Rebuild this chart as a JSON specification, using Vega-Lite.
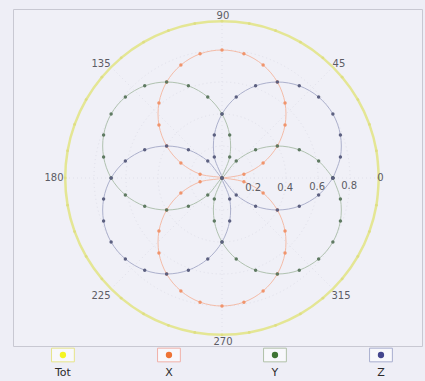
{
  "$schema": "https://vega.github.io/schema/vega-lite/v6.json",
  "background": "#eeeef6",
  "padding": {"left": 12, "top": 8, "right": 4, "bottom": 0},
  "spacing": 0,
  "bounds": "flush",
  "config": {"view": {"stroke": null}, "font": "DejaVu Sans"},
  "resolve": {"scale": {"x": "independent", "y": "independent", "fill": "independent", "stroke": "independent"}},
  "datasets": {
    "tot": [
      {"s":"Tot","t":0,"x":0.98,"y":0},{"s":"Tot","t":10,"x":0.965,"y":0.17},{"s":"Tot","t":20,"x":0.921,"y":0.335},{"s":"Tot","t":30,"x":0.849,"y":0.49},{"s":"Tot","t":40,"x":0.751,"y":0.63},{"s":"Tot","t":50,"x":0.63,"y":0.751},{"s":"Tot","t":60,"x":0.49,"y":0.849},{"s":"Tot","t":70,"x":0.335,"y":0.921},{"s":"Tot","t":80,"x":0.17,"y":0.965},{"s":"Tot","t":90,"x":0,"y":0.98},{"s":"Tot","t":100,"x":-0.17,"y":0.965},{"s":"Tot","t":110,"x":-0.335,"y":0.921},{"s":"Tot","t":120,"x":-0.49,"y":0.849},{"s":"Tot","t":130,"x":-0.63,"y":0.751},{"s":"Tot","t":140,"x":-0.751,"y":0.63},{"s":"Tot","t":150,"x":-0.849,"y":0.49},{"s":"Tot","t":160,"x":-0.921,"y":0.335},{"s":"Tot","t":170,"x":-0.965,"y":0.17},{"s":"Tot","t":180,"x":-0.98,"y":0},{"s":"Tot","t":190,"x":-0.965,"y":-0.17},{"s":"Tot","t":200,"x":-0.921,"y":-0.335},{"s":"Tot","t":210,"x":-0.849,"y":-0.49},{"s":"Tot","t":220,"x":-0.751,"y":-0.63},{"s":"Tot","t":230,"x":-0.63,"y":-0.751},{"s":"Tot","t":240,"x":-0.49,"y":-0.849},{"s":"Tot","t":250,"x":-0.335,"y":-0.921},{"s":"Tot","t":260,"x":-0.17,"y":-0.965},{"s":"Tot","t":270,"x":0,"y":-0.98},{"s":"Tot","t":280,"x":0.17,"y":-0.965},{"s":"Tot","t":290,"x":0.335,"y":-0.921},{"s":"Tot","t":300,"x":0.49,"y":-0.849},{"s":"Tot","t":310,"x":0.63,"y":-0.751},{"s":"Tot","t":320,"x":0.751,"y":-0.63},{"s":"Tot","t":330,"x":0.849,"y":-0.49},{"s":"Tot","t":340,"x":0.921,"y":-0.335},{"s":"Tot","t":350,"x":0.965,"y":-0.17},{"s":"Tot","t":360,"x":0.98,"y":0}
    ],
    "xyz": [
      {"s":"X","t":0,"x":0,"y":0},{"s":"X","t":10,"x":0.137,"y":0.024},{"s":"X","t":20,"x":0.257,"y":0.094},{"s":"X","t":30,"x":0.346,"y":0.2},{"s":"X","t":40,"x":0.394,"y":0.331},{"s":"X","t":50,"x":0.394,"y":0.469},{"s":"X","t":60,"x":0.346,"y":0.6},{"s":"X","t":70,"x":0.257,"y":0.706},{"s":"X","t":80,"x":0.137,"y":0.776},{"s":"X","t":90,"x":0,"y":0.8},{"s":"X","t":100,"x":-0.137,"y":0.776},{"s":"X","t":110,"x":-0.257,"y":0.706},{"s":"X","t":120,"x":-0.346,"y":0.6},{"s":"X","t":130,"x":-0.394,"y":0.469},{"s":"X","t":140,"x":-0.394,"y":0.331},{"s":"X","t":150,"x":-0.346,"y":0.2},{"s":"X","t":160,"x":-0.257,"y":0.094},{"s":"X","t":170,"x":-0.137,"y":0.024},{"s":"X","t":180,"x":0,"y":0},{"s":"X","t":190,"x":-0.137,"y":-0.024},{"s":"X","t":200,"x":-0.257,"y":-0.094},{"s":"X","t":210,"x":-0.346,"y":-0.2},{"s":"X","t":220,"x":-0.394,"y":-0.331},{"s":"X","t":230,"x":-0.394,"y":-0.469},{"s":"X","t":240,"x":-0.346,"y":-0.6},{"s":"X","t":250,"x":-0.257,"y":-0.706},{"s":"X","t":260,"x":-0.137,"y":-0.776},{"s":"X","t":270,"x":0,"y":-0.8},{"s":"X","t":280,"x":0.137,"y":-0.776},{"s":"X","t":290,"x":0.257,"y":-0.706},{"s":"X","t":300,"x":0.346,"y":-0.6},{"s":"X","t":310,"x":0.394,"y":-0.469},{"s":"X","t":320,"x":0.394,"y":-0.331},{"s":"X","t":330,"x":0.346,"y":-0.2},{"s":"X","t":340,"x":0.257,"y":-0.094},{"s":"X","t":350,"x":0.137,"y":-0.024},{"s":"X","t":360,"x":0,"y":0},
      {"s":"Y","t":0,"x":0.693,"y":0},{"s":"Y","t":10,"x":0.604,"y":0.106},{"s":"Y","t":20,"x":0.483,"y":0.176},{"s":"Y","t":30,"x":0.346,"y":0.2},{"s":"Y","t":40,"x":0.21,"y":0.176},{"s":"Y","t":50,"x":0.089,"y":0.106},{"s":"Y","t":60,"x":0,"y":0},{"s":"Y","t":70,"x":0.048,"y":0.131},{"s":"Y","t":80,"x":0.048,"y":0.269},{"s":"Y","t":90,"x":0,"y":0.4},{"s":"Y","t":100,"x":-0.089,"y":0.506},{"s":"Y","t":110,"x":-0.21,"y":0.576},{"s":"Y","t":120,"x":-0.346,"y":0.6},{"s":"Y","t":130,"x":-0.483,"y":0.576},{"s":"Y","t":140,"x":-0.604,"y":0.506},{"s":"Y","t":150,"x":-0.693,"y":0.4},{"s":"Y","t":160,"x":-0.74,"y":0.269},{"s":"Y","t":170,"x":-0.74,"y":0.131},{"s":"Y","t":180,"x":-0.693,"y":0},{"s":"Y","t":190,"x":-0.604,"y":-0.106},{"s":"Y","t":200,"x":-0.483,"y":-0.176},{"s":"Y","t":210,"x":-0.346,"y":-0.2},{"s":"Y","t":220,"x":-0.21,"y":-0.176},{"s":"Y","t":230,"x":-0.089,"y":-0.106},{"s":"Y","t":240,"x":0,"y":0},{"s":"Y","t":250,"x":-0.048,"y":-0.131},{"s":"Y","t":260,"x":-0.048,"y":-0.269},{"s":"Y","t":270,"x":0,"y":-0.4},{"s":"Y","t":280,"x":0.089,"y":-0.506},{"s":"Y","t":290,"x":0.21,"y":-0.576},{"s":"Y","t":300,"x":0.346,"y":-0.6},{"s":"Y","t":310,"x":0.483,"y":-0.576},{"s":"Y","t":320,"x":0.604,"y":-0.506},{"s":"Y","t":330,"x":0.693,"y":-0.4},{"s":"Y","t":340,"x":0.74,"y":-0.269},{"s":"Y","t":350,"x":0.74,"y":-0.131},{"s":"Y","t":360,"x":0.693,"y":0},
      {"s":"Z","t":0,"x":0.693,"y":0},{"s":"Z","t":10,"x":0.74,"y":0.131},{"s":"Z","t":20,"x":0.74,"y":0.269},{"s":"Z","t":30,"x":0.693,"y":0.4},{"s":"Z","t":40,"x":0.604,"y":0.506},{"s":"Z","t":50,"x":0.483,"y":0.576},{"s":"Z","t":60,"x":0.346,"y":0.6},{"s":"Z","t":70,"x":0.21,"y":0.576},{"s":"Z","t":80,"x":0.089,"y":0.506},{"s":"Z","t":90,"x":0,"y":0.4},{"s":"Z","t":100,"x":-0.048,"y":0.269},{"s":"Z","t":110,"x":-0.048,"y":0.131},{"s":"Z","t":120,"x":0,"y":0},{"s":"Z","t":130,"x":-0.089,"y":0.106},{"s":"Z","t":140,"x":-0.21,"y":0.176},{"s":"Z","t":150,"x":-0.346,"y":0.2},{"s":"Z","t":160,"x":-0.483,"y":0.176},{"s":"Z","t":170,"x":-0.604,"y":0.106},{"s":"Z","t":180,"x":-0.693,"y":0},{"s":"Z","t":190,"x":-0.74,"y":-0.131},{"s":"Z","t":200,"x":-0.74,"y":-0.269},{"s":"Z","t":210,"x":-0.693,"y":-0.4},{"s":"Z","t":220,"x":-0.604,"y":-0.506},{"s":"Z","t":230,"x":-0.483,"y":-0.576},{"s":"Z","t":240,"x":-0.346,"y":-0.6},{"s":"Z","t":250,"x":-0.21,"y":-0.576},{"s":"Z","t":260,"x":-0.089,"y":-0.506},{"s":"Z","t":270,"x":0,"y":-0.4},{"s":"Z","t":280,"x":0.048,"y":-0.269},{"s":"Z","t":290,"x":0.048,"y":-0.131},{"s":"Z","t":300,"x":0,"y":0},{"s":"Z","t":310,"x":0.089,"y":-0.106},{"s":"Z","t":320,"x":0.21,"y":-0.176},{"s":"Z","t":330,"x":0.346,"y":-0.2},{"s":"Z","t":340,"x":0.483,"y":-0.176},{"s":"Z","t":350,"x":0.604,"y":-0.106},{"s":"Z","t":360,"x":0.693,"y":0}
    ],
    "legend": [{"s":"Tot"},{"s":"X"},{"s":"Y"},{"s":"Z"}]
  },
  "vconcat": [
    {
      "width": 409,
      "height": 337,
      "view": {"stroke": "#c8c8d2", "fill": "#f0f0f7"},
      "layer": [
        {
          "data": {"values": [{"cx":0,"cy":0,"r":0.2},{"cx":0,"cy":0,"r":0.4},{"cx":0,"cy":0,"r":0.6},{"cx":0,"cy":0,"r":0.8}]},
          "mark": {"type": "point", "shape": "circle", "filled": false, "stroke": "#e0e0ea", "strokeWidth": 1, "strokeDash": [1, 3], "opacity": 1},
          "encoding": {
            "x": {"field": "cx", "type": "quantitative", "scale": {"domain": [-1.30625, 1.25], "nice": false, "zero": false}, "axis": null},
            "y": {"field": "cy", "type": "quantitative", "scale": {"domain": [-1.05, 1.05625], "nice": false, "zero": false}, "axis": null},
            "size": {"field": "r", "type": "quantitative", "scale": {"type": "pow", "exponent": 2, "domain": [0, 1], "range": [0, 102400]}, "legend": null}
          }
        },
        {
          "data": {"values": [{"x0":0,"y0":0,"x":1,"y":0},{"x0":0,"y0":0,"x":0.707,"y":0.707},{"x0":0,"y0":0,"x":0,"y":1},{"x0":0,"y0":0,"x":-0.707,"y":0.707},{"x0":0,"y0":0,"x":-1,"y":0},{"x0":0,"y0":0,"x":-0.707,"y":-0.707},{"x0":0,"y0":0,"x":0,"y":-1},{"x0":0,"y0":0,"x":0.707,"y":-0.707}]},
          "mark": {"type": "rule", "stroke": "#e0e0ea", "strokeWidth": 1, "strokeDash": [1, 3]},
          "encoding": {
            "x": {"field": "x0", "type": "quantitative"},
            "y": {"field": "y0", "type": "quantitative"},
            "x2": {"field": "x"},
            "y2": {"field": "y"}
          }
        },
        {
          "data": {"name": "tot"},
          "mark": {"type": "line", "stroke": "#e4e694", "strokeWidth": 2.5, "interpolate": "catmull-rom"},
          "encoding": {
            "x": {"field": "x", "type": "quantitative"},
            "y": {"field": "y", "type": "quantitative"},
            "order": {"field": "t", "type": "quantitative"}
          }
        },
        {
          "data": {"name": "tot"},
          "mark": {"type": "point", "filled": true, "fill": "#dede84", "size": 8, "opacity": 1, "strokeWidth": 0},
          "encoding": {
            "x": {"field": "x", "type": "quantitative"},
            "y": {"field": "y", "type": "quantitative"}
          }
        },
        {
          "data": {"name": "xyz"},
          "mark": {"type": "line", "strokeWidth": 1, "interpolate": "catmull-rom"},
          "encoding": {
            "x": {"field": "x", "type": "quantitative"},
            "y": {"field": "y", "type": "quantitative"},
            "order": {"field": "t", "type": "quantitative"},
            "detail": {"field": "s", "type": "nominal"},
            "stroke": {"field": "s", "type": "nominal", "scale": {"domain": ["X", "Y", "Z"], "range": ["#f4bca8", "#b0c2b0", "#acb0cc"]}, "legend": null}
          }
        },
        {
          "data": {"name": "xyz"},
          "mark": {"type": "point", "filled": true, "size": 12, "opacity": 1, "strokeWidth": 0},
          "encoding": {
            "x": {"field": "x", "type": "quantitative"},
            "y": {"field": "y", "type": "quantitative"},
            "fill": {"field": "s", "type": "nominal", "scale": {"domain": ["X", "Y", "Z"], "range": ["#f0946c", "#5f7a62", "#5c6080"]}, "legend": null}
          }
        },
        {
          "data": {"values": [
            {"lab":"0","x":0.99,"y":0},{"lab":"45","x":0.731,"y":0.713},{"lab":"90","x":0.006,"y":1.013},{"lab":"135","x":-0.756,"y":0.713},
            {"lab":"180","x":-1.05,"y":0},{"lab":"225","x":-0.756,"y":-0.738},{"lab":"270","x":0.006,"y":-1.025},{"lab":"315","x":0.744,"y":-0.738}
          ]},
          "mark": {"type": "text", "fontSize": 10, "fill": "#5c5c64", "align": "center", "baseline": "middle"},
          "encoding": {
            "x": {"field": "x", "type": "quantitative"},
            "y": {"field": "y", "type": "quantitative"},
            "text": {"field": "lab", "type": "nominal"}
          }
        },
        {
          "data": {"values": [
            {"lab":"0.2","x":0.195,"y":-0.06},{"lab":"0.4","x":0.395,"y":-0.06},{"lab":"0.6","x":0.595,"y":-0.055},{"lab":"0.8","x":0.795,"y":-0.05}
          ]},
          "mark": {"type": "text", "fontSize": 10, "fill": "#5c5c64", "align": "center", "baseline": "middle"},
          "encoding": {
            "x": {"field": "x", "type": "quantitative"},
            "y": {"field": "y", "type": "quantitative"},
            "text": {"field": "lab", "type": "nominal"}
          }
        }
      ]
    },
    {
      "width": 409,
      "height": 36,
      "view": {"stroke": null},
      "data": {"name": "legend"},
      "layer": [
        {
          "mark": {"type": "point", "shape": "M-1,-0.6L1,-0.6L1,0.6L-1,0.6Z", "size": 520, "filled": true, "fill": "#f8f8fc", "strokeWidth": 1, "opacity": 1, "yOffset": -9},
          "encoding": {
            "x": {"field": "s", "type": "nominal", "sort": null, "scale": {"type": "point", "domain": ["Tot", "X", "Y", "Z"], "padding": 0.429, "align": 0.549}, "axis": null},
            "stroke": {"field": "s", "type": "nominal", "scale": {"domain": ["Tot", "X", "Y", "Z"], "range": ["#e6e48a", "#f0b0a8", "#b0c0a8", "#a8aece"]}, "legend": null}
          }
        },
        {
          "mark": {"type": "point", "shape": "circle", "size": 40, "filled": true, "opacity": 1, "strokeWidth": 0, "yOffset": -9},
          "encoding": {
            "x": {"field": "s", "type": "nominal", "sort": null},
            "fill": {"field": "s", "type": "nominal", "scale": {"domain": ["Tot", "X", "Y", "Z"], "range": ["#f4f422", "#ee7436", "#3e7434", "#44468e"]}, "legend": null}
          }
        },
        {
          "mark": {"type": "text", "fontSize": 11, "fill": "#2a2a2a", "dy": 9, "align": "center", "baseline": "middle"},
          "encoding": {
            "x": {"field": "s", "type": "nominal", "sort": null},
            "text": {"field": "s", "type": "nominal"}
          }
        }
      ]
    }
  ]
}
